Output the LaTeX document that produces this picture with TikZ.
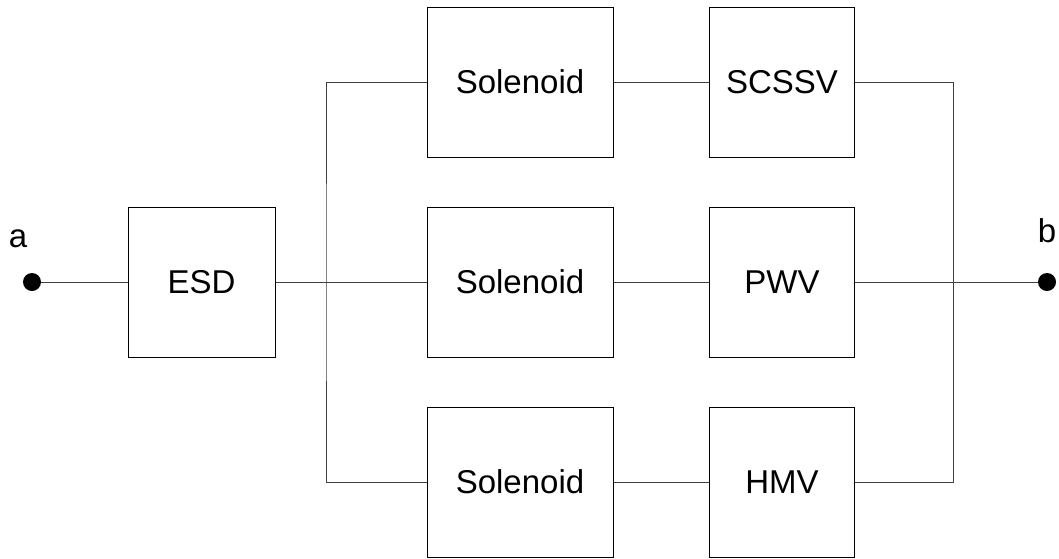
\documentclass[tikz,border=0pt]{standalone}
\usepackage{fontspec}
\setmainfont{Liberation Sans}
\begin{document}
\begin{tikzpicture}[x=1pt,y=-1pt,
  block/.style={draw=black,line width=1pt,fill=white,minimum height=150pt,inner sep=0pt,font=\fontsize{33}{40}\selectfont},
  esdbox/.style={block,minimum width=147pt},
  solbox/.style={block,minimum width=186pt},
  valvebox/.style={block,minimum width=145pt},
  wire/.style={line width=1pt,draw=black!75},
  term/.style={circle,fill=black,inner sep=0pt,minimum size=18pt},
  lbl/.style={font=\fontsize{33}{40}\selectfont,inner sep=0pt,anchor=base}]
\useasboundingbox (0,0) rectangle (1059,558);
% terminals
\node[term] (a) at (32,282) {};
\node[term] (b) at (1047,282) {};
\node[lbl] (la) at (18,247) {a};
\node[lbl] (lb) at (1047,242) {b};
% blocks
\node[esdbox] (esd) at (201.5,282) {ESD};
\node[solbox] (s1) at (520,82) {Solenoid};
\node[solbox] (s2) at (520,282) {Solenoid};
\node[solbox] (s3) at (520,482) {Solenoid};
\node[valvebox] (v1) at (782,82) {SCSSV};
\node[valvebox] (v2) at (782,282) {PWV};
\node[valvebox] (v3) at (782,482) {HMV};
% junction points of the parallel branches
\coordinate (jl) at (326,282);
\coordinate (jr) at (953,282);
% input side
\draw[wire] (a) -- (esd.west);
\draw[wire] (esd.east) -- (jl);
\draw[wire] (s1.west) -| (jl) |- (s3.west);
\draw[wire] (jl) -- (s2.west);
% series links
\draw[wire] (s1.east) -- (v1.west);
\draw[wire] (s2.east) -- (v2.west);
\draw[wire] (s3.east) -- (v3.west);
% output side
\draw[wire] (v1.east) -| (jr) |- (v3.east);
\draw[wire] (v2.east) -- (b);
\end{tikzpicture}
\end{document}
